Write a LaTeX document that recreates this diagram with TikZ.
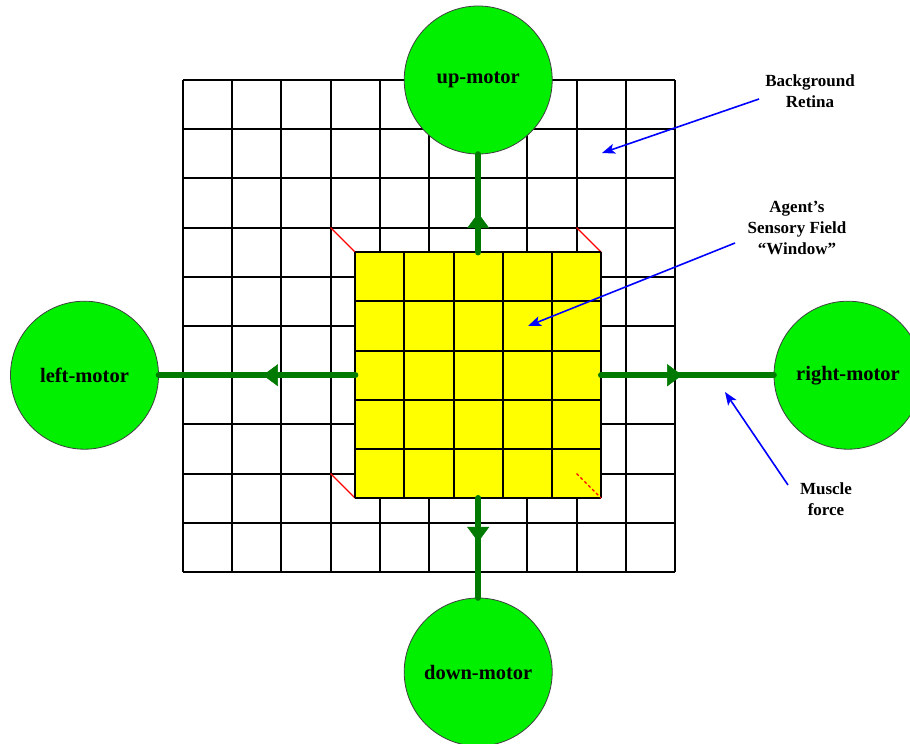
\documentclass[tikz,border=0pt]{standalone}
\usepackage{fontspec}
\setmainfont{Liberation Serif}
\usetikzlibrary{arrows.meta,decorations.markings}
\definecolor{motorgreen}{RGB}{0,240,0}
\definecolor{forcegreen}{RGB}{0,122,0}
\definecolor{winyellow}{RGB}{255,255,0}
\begin{document}
\begin{tikzpicture}[x=1pt,y=-1pt,
  motor/.style={circle,draw=black!75,line width=0.8pt,fill=motorgreen,
    minimum size=148pt,inner sep=0pt,font=\bfseries\fontsize{20.5}{24}\selectfont},
  cellline/.style={line width=2pt,black},
  force/.style={line width=6.5pt,forcegreen,line cap=round,postaction={decorate},
    decoration={markings,mark=at position #1 with
      {\arrow[line width=0.5pt]{Triangle[width=22pt,length=15pt]}}}},
  note/.style={align=center,font=\bfseries\fontsize{17}{21}\selectfont},
  pointer/.style={blue,line width=1.6pt,-{Stealth[length=13pt,width=10pt,inset=3pt]}},
  corner/.style={red,line width=1.4pt}]
\useasboundingbox (0,0) rectangle (910,744);
\fill[white] (0,0) rectangle (910,744);

% background retina: 10 x 10 cells
\def\gx{183}\def\gy{80}\def\gs{49.2}
\foreach \i in {0,...,10}{
  \draw[cellline] ({\gx+\i*\gs},\gy) -- ({\gx+\i*\gs},{\gy+10*\gs});
  \draw[cellline] (\gx,{\gy+\i*\gs}) -- ({\gx+10*\gs},{\gy+\i*\gs});
}

% red lines linking the window corners to the retina grid
\draw[corner] ({\gx+3*\gs},{\gy+3*\gs}) -- ({\gx+3.5*\gs},{\gy+3.5*\gs});
\draw[corner] ({\gx+8*\gs},{\gy+3*\gs}) -- ({\gx+8.5*\gs},{\gy+3.5*\gs});
\draw[corner] ({\gx+3*\gs},{\gy+8*\gs}) -- ({\gx+3.5*\gs},{\gy+8.5*\gs});

% sensory field window: 5 x 5 cells
\node[fill=winyellow,minimum width=246pt,minimum height=246pt,inner sep=0pt,outer sep=0pt]
  (win) at ({\gx+6*\gs},{\gy+6*\gs}) {};
\foreach \i in {0,...,5}{
  \draw[cellline] ({\gx+(3.5+\i)*\gs},{\gy+3.5*\gs}) -- ({\gx+(3.5+\i)*\gs},{\gy+8.5*\gs});
  \draw[cellline] ({\gx+3.5*\gs},{\gy+(3.5+\i)*\gs}) -- ({\gx+8.5*\gs},{\gy+(3.5+\i)*\gs});
}
\draw[corner,dash pattern=on 3pt off 2.5pt] ({\gx+8*\gs},{\gy+8*\gs}) -- ({\gx+8.5*\gs},{\gy+8.5*\gs});

% motors, centred on the window's axes
\node[motor] (up) at (win.center |- 0,80) {up-motor};
\node[motor] (down) at (win.center |- 0,672) {down-motor};
\node[motor] (left) at (win.center -| 84.5,0) {left-motor};
\node[motor] (right) at (win.center -| 848,0) {right-motor};

% muscle forces
\draw[force=0.40] (win.north) -- (up.south);
\draw[force=0.44] (win.south) -- (down.north);
\draw[force=0.47] (win.west) -- (left.east);
\draw[force=0.47] (win.east) -- (right.west);

% annotations
\node[note] (bgnote) at (810,91) {Background\\Retina};
\node[note] (agnote) at (797,228) {Agent’s\\Sensory Field\\“Window”};
\node[note] (munote) at (826,499) {Muscle\\force};
\coordinate (bgfrom) at (759,99);
\coordinate (bgto) at (602,153);
\coordinate (agfrom) at (735,243);
\coordinate (agto) at (528,326);
\coordinate (mufrom) at (788,485);
\coordinate (muto) at (725,392);
\draw[pointer] (bgfrom) -- (bgto);
\draw[pointer] (agfrom) -- (agto);
\draw[pointer] (mufrom) -- (muto);
\end{tikzpicture}
\end{document}
